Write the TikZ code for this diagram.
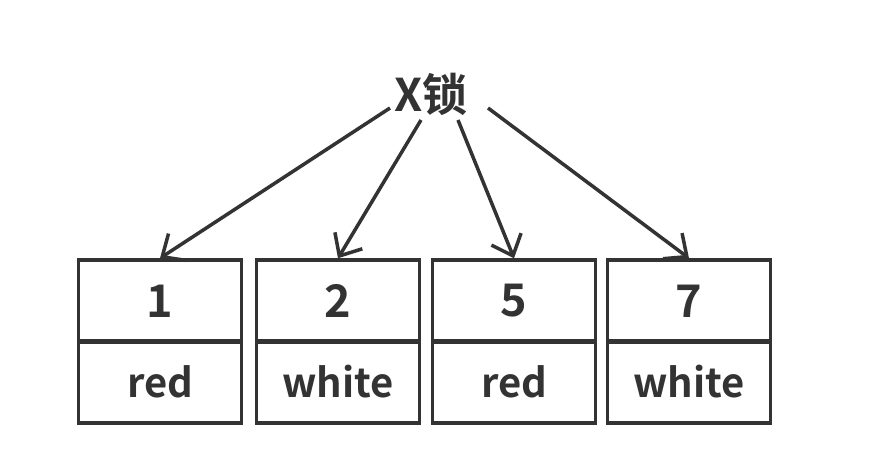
\documentclass[tikz,border=0pt]{standalone}
\usepackage{fontspec}
\setmainfont{Noto Sans CJK SC}[BoldFont={Noto Sans CJK SC Bold}]
\usetikzlibrary{arrows.meta}
\definecolor{ink}{HTML}{333333}
\begin{document}
\begin{tikzpicture}[x=1pt,y=-1pt,
  cell/.style={draw=ink, line width=3.5pt, minimum width=163pt, minimum height=82pt, inner sep=0pt, text=ink, font=\fontsize{45}{48}\selectfont\bfseries},
  wordcell/.style={cell, font=\fontsize{40}{44}\selectfont\bfseries},
  lockarrow/.style={draw=ink, line width=3.5pt, -{Straight Barb[length=18pt,width=32pt,line width=3.5pt]}}]
\useasboundingbox[fill=white] (0,0) rectangle (884,456);
\node[text=ink, font=\fontsize{45}{48}\selectfont\bfseries] (x) at (431,94) {X锁};
\node[cell] (k1) at (160,301) {1};
\node[wordcell] (v1) at (160,382) {red};
\node[cell] (k2) at (338,301) {2};
\node[wordcell] (v2) at (338,382) {white};
\node[cell] (k5) at (514,301) {5};
\node[wordcell] (v5) at (514,382) {red};
\node[cell] (k7) at (689,301) {7};
\node[wordcell] (v7) at (689,382) {white};
\coordinate (s1) at (390,108);
\coordinate (s2) at (421,120);
\coordinate (s3) at (458,120);
\coordinate (s4) at (488,108);
\draw[lockarrow] (s1) -- (k1.north);
\draw[lockarrow] (s2) -- (k2.north);
\draw[lockarrow] (s3) -- (k5.north);
\draw[lockarrow] (s4) -- (k7.north);
\end{tikzpicture}
\end{document}
